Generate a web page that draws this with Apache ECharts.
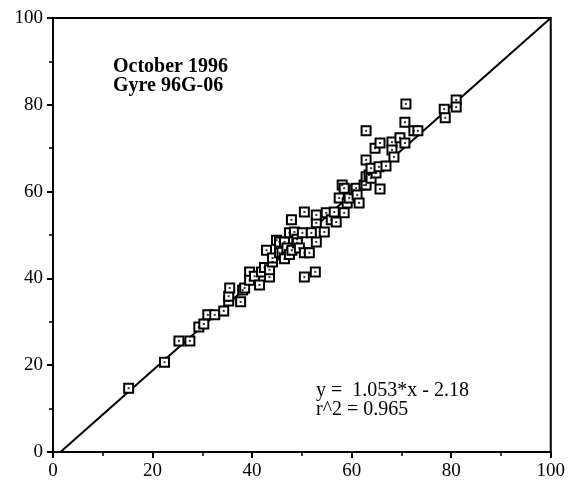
<!DOCTYPE html>
<html>
<head>
<meta charset="utf-8">
<script src="https://cdn.jsdelivr.net/npm/echarts@6/dist/echarts.min.js"></script>
<style>
html, body {margin: 0; padding: 0; background: #fff;}
#chart {width: 568px; height: 499px;}
</style>
</head>
<body>
<div id="chart"></div>
<script>
var points = [
    [15.2, 14.7], [22.4, 20.7], [25.3, 25.6], [27.5, 25.6], [29.3, 28.8], [30.3, 29.5],
    [31.1, 31.6], [32.5, 31.6], [34.3, 32.5], [35.3, 34.8], [35.3, 35.9], [35.5, 37.8],
    [37.7, 34.6], [38.1, 37.3], [38.5, 37.8], [39.5, 41.5], [39.5, 39.6], [40.5, 40.5],
    [41.5, 38.5], [41.9, 41.5], [42.5, 42.5], [42.9, 46.5], [43.5, 40.3], [43.5, 42.0],
    [44.1, 43.8], [44.1, 44.7], [44.9, 48.8], [45.5, 45.9], [45.5, 48.4], [46.0, 46.0],
    [46.5, 44.5], [46.5, 48.4], [47.0, 47.0], [47.5, 45.5], [47.5, 50.5], [47.9, 53.5],
    [48.0, 46.5], [48.5, 50.7], [49.0, 49.0], [49.1, 48.2], [49.5, 47.0], [50.1, 50.5],
    [50.5, 45.9], [50.5, 55.3], [50.5, 40.3], [51.5, 45.9], [51.9, 50.5], [52.7, 41.5],
    [52.9, 48.4], [52.9, 52.8], [52.9, 54.6], [54.5, 50.7], [54.9, 55.1], [55.9, 53.5],
    [56.5, 55.3], [56.9, 53.0], [57.5, 58.5], [58.1, 61.5], [58.5, 55.1], [58.5, 60.8],
    [59.1, 57.4], [59.5, 58.5], [60.5, 60.4], [60.9, 60.8], [61.1, 59.2], [61.5, 57.4],
    [62.5, 61.5], [62.9, 61.5], [62.9, 63.4], [63.5, 63.8], [63.9, 63.1], [64.9, 64.3],
    [65.7, 60.6], [62.9, 67.3], [63.9, 65.4], [65.5, 65.7], [66.9, 65.9], [62.9, 74.0],
    [64.7, 70.0], [65.7, 71.2], [68.1, 71.4], [69.7, 72.4], [70.7, 71.2], [68.1, 69.6],
    [68.5, 68.0], [70.7, 76.0], [70.9, 80.2], [72.5, 74.0], [73.3, 74.0], [78.6, 79.0],
    [78.8, 77.0], [81.0, 81.1], [81.0, 79.5]
];
// straight reference line drawn through the cloud
var refLine = [[1.5, 0], [100, 100]];
var axisTicks = [0, 20, 40, 60, 80, 100];
var titleLines = ['October 1996', 'Gyre 96G-06'];
var fitLines = ['y =  1.053*x - 2.18', 'r^2 = 0.965'];

var chart = echarts.init(document.getElementById('chart'));

var axisCommon = {
    type: 'value',
    min: axisTicks[0],
    max: axisTicks[axisTicks.length - 1],
    interval: 20,
    axisLine: {show: true, lineStyle: {color: '#000', width: 2}},
    axisTick: {show: true, length: 6, lineStyle: {color: '#000', width: 2}},
    minorTick: {show: true, splitNumber: 2, length: 4, lineStyle: {color: '#000', width: 1.5}},
    splitLine: {show: false},
    axisLabel: {color: '#000', fontFamily: 'Liberation Serif', fontSize: 19, margin: 10}
};

chart.setOption({
    animation: false,
    grid: {
        left: 53, right: 15, top: 18, bottom: 47,
        show: true, borderColor: '#000', borderWidth: 2
    },
    xAxis: axisCommon,
    yAxis: axisCommon,
    graphic: [
        {
            type: 'text', left: 113, top: 57,
            style: {
                text: titleLines.join('\n'), fill: '#000',
                font: 'bold 20px "Liberation Serif"', lineHeight: 19
            }
        },
        {
            type: 'text', left: 316, top: 381,
            style: {
                text: fitLines.join('\n'), fill: '#000',
                font: '20px "Liberation Serif"', lineHeight: 19
            }
        }
    ],
    series: [
        {
            type: 'line',
            data: refLine,
            symbol: 'none',
            lineStyle: {color: '#000', width: 2},
            z: 1
        },
        {
            type: 'scatter',
            data: points,
            symbol: 'rect',
            symbolSize: 9,
            itemStyle: {color: '#fff', borderColor: '#000', borderWidth: 2, opacity: 1},
            z: 2
        },
        {
            type: 'scatter',
            data: points,
            symbol: 'rect',
            symbolSize: 2,
            itemStyle: {color: '#000'},
            z: 3
        }
    ]
});
</script>
</body>
</html>
